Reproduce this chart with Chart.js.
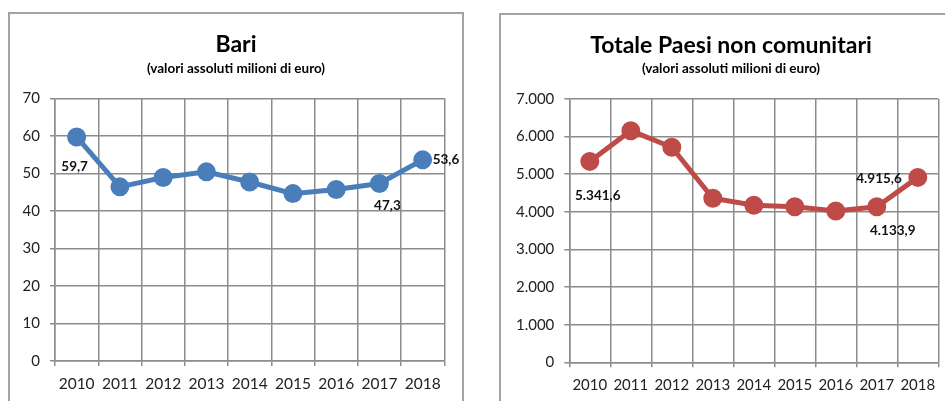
<!DOCTYPE html>
<html>
<head>
<meta charset="utf-8">
<script src="https://cdn.jsdelivr.net/npm/chart.js@4/dist/chart.umd.min.js"></script>
<style>
  html, body { margin: 0; padding: 0; background: #fff; width: 945px; height: 401px; overflow: hidden; }
  .box { position: absolute; border: 2px solid #a3a3a3; background: #fff; }
  #boxBari { left: 8px; top: 12px; width: 452px; height: 400px; }
  #boxTot { left: 499px; top: 13px; width: 460px; height: 400px; }
  .box canvas { position: absolute; left: 0; top: 0; }
  .ttl { position: absolute; left: 0; width: 100%; text-align: center; font: bold 23px Lato, sans-serif; line-height: 26px; color: #000; top: 16px; }
  .sub { position: absolute; left: 0; width: 100%; text-align: center; font: bold 13.5px Lato, sans-serif; line-height: 14px; color: #000; }
</style>
</head>
<body>
<div class="box" id="boxBari">
  <canvas id="cBari" width="452" height="387"></canvas>
  <div class="ttl">Bari</div>
  <div class="sub" style="top:47px">(valori assoluti milioni di euro)</div>
</div>
<div class="box" id="boxTot">
  <canvas id="cTot" width="460" height="386"></canvas>
  <div class="ttl">Totale Paesi non comunitari</div>
  <div class="sub" style="top:46px">(valori assoluti milioni di euro)</div>
</div>
<script>
// anni e valori (milioni di euro)
const anni = ['2010', '2011', '2012', '2013', '2014', '2015', '2016', '2017', '2018'];
const bari = [59.7, 46.4, 48.9, 50.4, 47.7, 44.6, 45.7, 47.3, 53.6];
const totale = [5341.6, 6157, 5716, 4360, 4174, 4137, 4022, 4133.9, 4915.6];

const GRID = '#8c8c8c';

// formato italiano: 4.915,6
function fmtIt(v, dec) {
  const parts = v.toFixed(dec).split('.');
  const intPart = parts[0].replace(/\B(?=(\d{3})+(?!\d))/g, '.');
  return parts[1] ? intPart + ',' + parts[1] : intPart;
}

// etichette dei valori accanto ad alcuni punti
const valueLabels = {
  id: 'valueLabels',
  afterDatasetsDraw(chart, args, opts) {
    const meta = chart.getDatasetMeta(0);
    const vals = chart.data.datasets[0].data;
    const ctx = chart.ctx;
    ctx.save();
    ctx.font = 'bold 13.5px Lato, sans-serif';
    ctx.fillStyle = '#111';
    ctx.textBaseline = 'middle';
    opts.items.forEach(it => {
      const pt = meta.data[it.index];
      ctx.textAlign = it.align;
      ctx.fillText(fmtIt(vals[it.index], 1), pt.x + it.dx, pt.y + it.dy);
    });
    ctx.restore();
  }
};

function lineChart(id, values, color, yMax, yStep, yWidth, xHeight, xFont, padRight, padTop, labels) {
  return new Chart(document.getElementById(id), {
    type: 'line',
    data: {
      labels: anni,
      datasets: [{
        data: values,
        borderColor: color,
        backgroundColor: color,
        borderWidth: 5,
        pointRadius: 7,
        pointHoverRadius: 7,
        tension: 0
      }]
    },
    options: {
      responsive: false,
      animation: false,
      events: [],
      layout: { padding: { top: padTop, right: padRight, bottom: 0, left: 0 } },
      plugins: {
        legend: { display: false },
        tooltip: { enabled: false },
        valueLabels: { items: labels }
      },
      scales: {
        x: {
          offset: true,
          grid: { offset: true, color: GRID, lineWidth: 1.5, tickLength: 5, tickColor: GRID },
          border: { color: GRID, width: 1.5 },
          ticks: { color: '#222', font: { family: 'Lato', size: xFont }, padding: 9, maxRotation: 0, autoSkip: false },
          afterFit(s) { s.height = xHeight; }
        },
        y: {
          min: 0,
          max: yMax,
          grid: { color: GRID, lineWidth: 1.5, tickLength: 5, tickColor: GRID },
          border: { color: GRID, width: 1.5 },
          ticks: {
            stepSize: yStep,
            color: '#222',
            font: { family: 'Lato', size: 15 },
            padding: 10,
            callback: v => fmtIt(v, 0)
          },
          afterFit(s) { s.width = yWidth; }
        }
      }
    },
    plugins: [valueLabels]
  });
}

lineChart('cBari', bari, '#4a7ebb', 70, 10, 45, 40, 15.5, 17.7, 84.3, [
  { index: 0, dx: -2, dy: 30, align: 'center' },
  { index: 7, dx: 8, dy: 22, align: 'center' },
  { index: 8, dx: 10, dy: 0, align: 'left' }
]);

lineChart('cTot', totale, '#be4b48', 7000, 1000, 68.3, 38.7, 15, 22.7, 84, [
  { index: 0, dx: 8, dy: 34, align: 'center' },
  { index: 7, dx: 16, dy: 24, align: 'center' },
  { index: 8, dx: -16, dy: 1, align: 'right' }
]);
</script>
</body>
</html>
